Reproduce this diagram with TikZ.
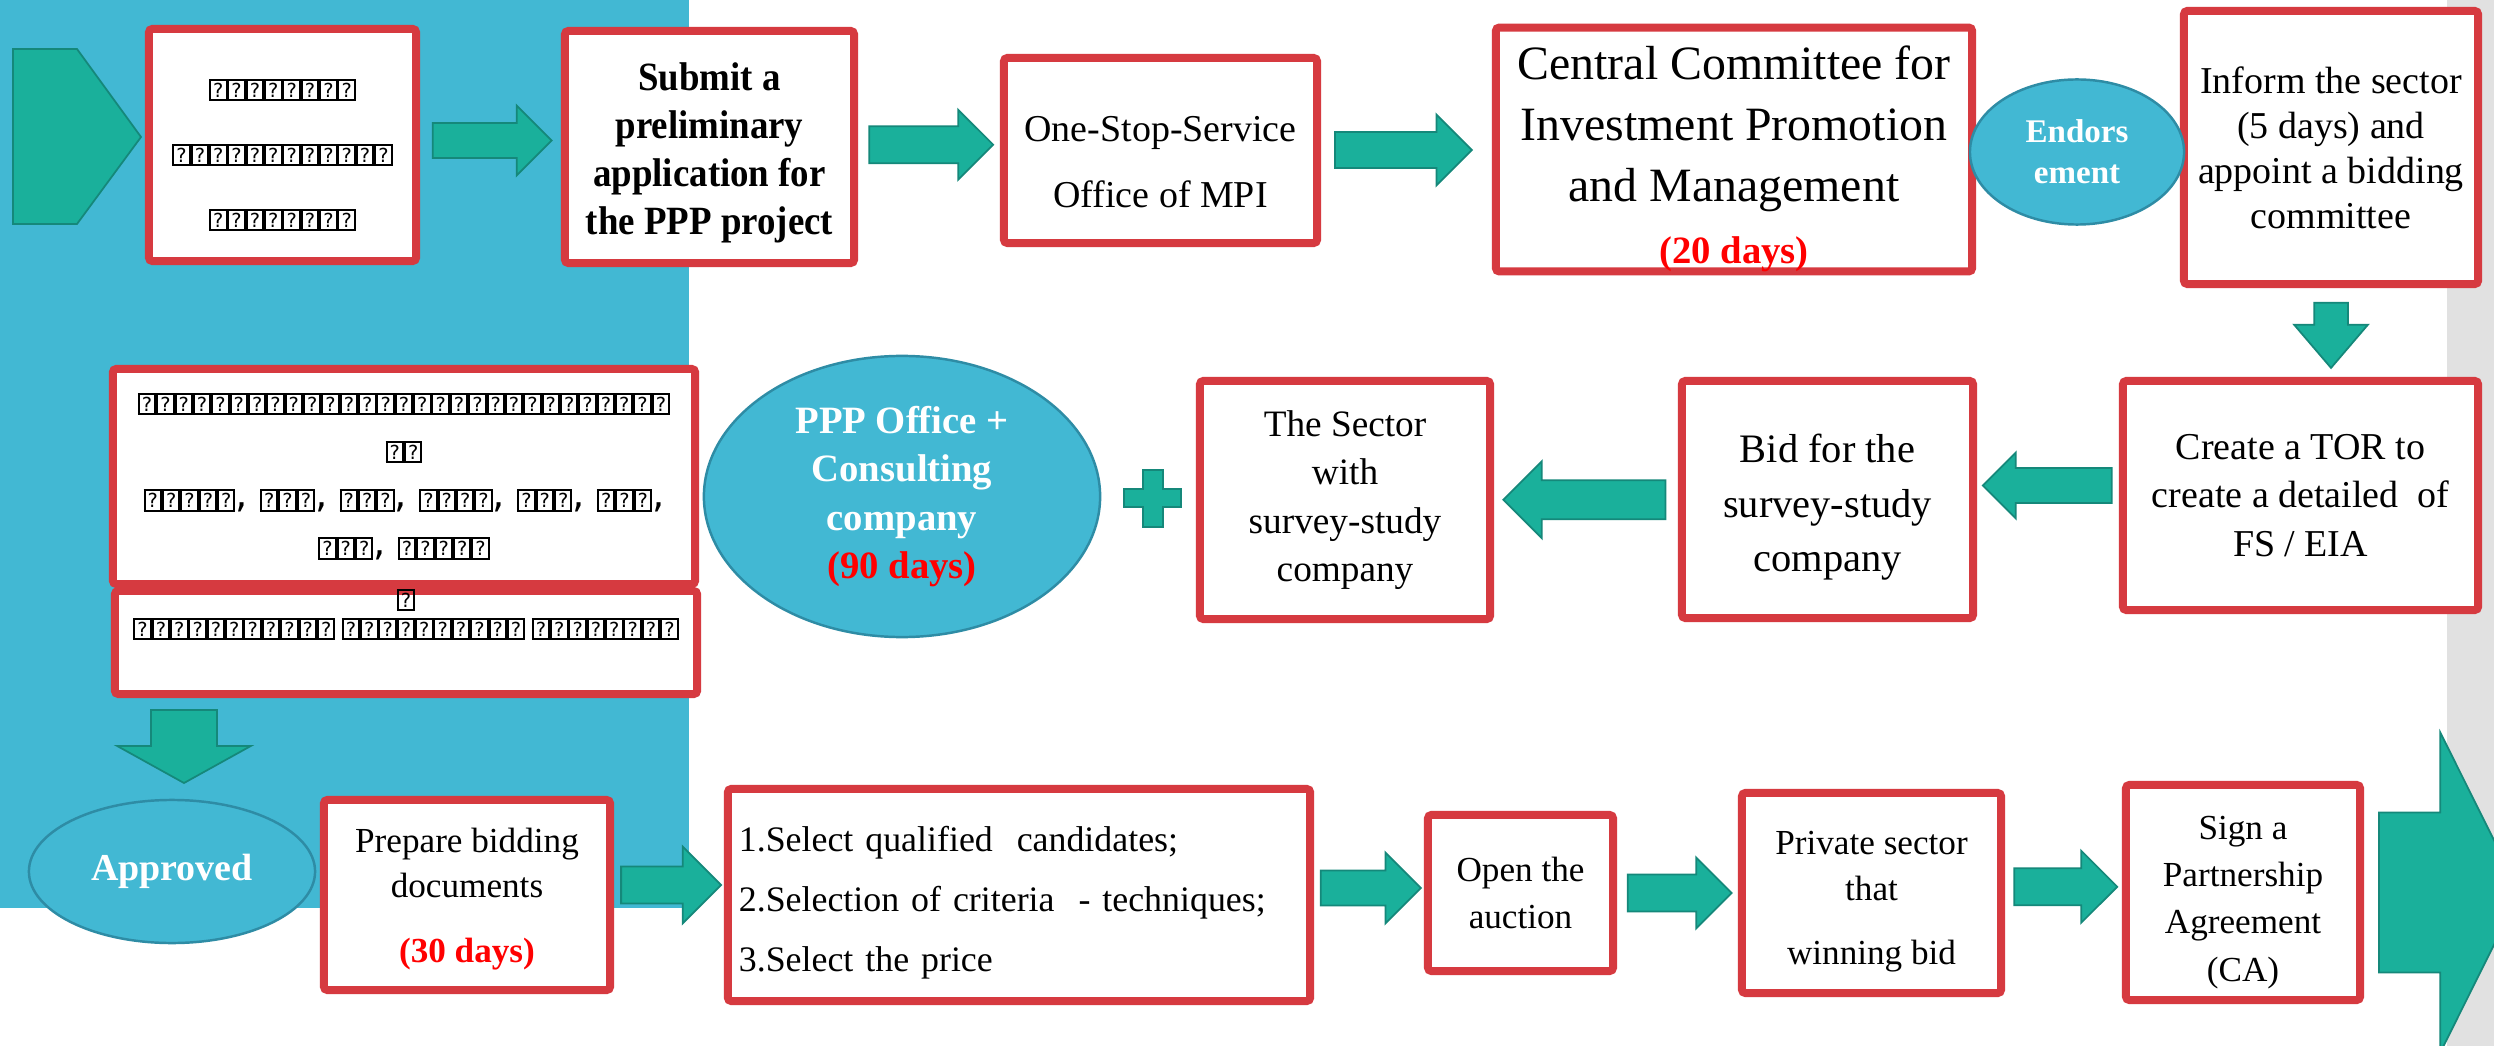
\documentclass[tikz,border=0pt]{standalone}
\usepackage{fontspec}
\setmainfont{Liberation Serif}
\newfontfamily\tofufont{DejaVu Sans}
\usepackage{tikz}
\usetikzlibrary{shapes.geometric, shapes.arrows, positioning, calc}

\definecolor{bgblue}{HTML}{42B8D3}
\definecolor{ovaledge}{HTML}{2E8CA5}
\definecolor{boxred}{HTML}{D63A40}
\definecolor{daysred}{HTML}{FF0000}
\definecolor{flowteal}{HTML}{1AB09B}
\definecolor{flowedge}{HTML}{15887A}
\definecolor{stripgray}{HTML}{E1E1E1}

\newcommand{\tofuglyph}{{\setlength{\fboxsep}{0.6pt}\setlength{\fboxrule}{0.55pt}\fontsize{5.5}{6}\selectfont\fbox{?}}}
\newcommand{\tofu}[1]{\foreach \k in {1,...,#1}{\tofuglyph}}

\tikzset{
  redbox/.style={draw=boxred, line width=0.08cm, fill=white, align=center, inner sep=0pt, rounded corners=1pt},
  oval/.style={ellipse, draw=ovaledge, line width=0.7pt, fill=bgblue, text=white, align=center, inner sep=0pt},
  flow/.style={single arrow, draw=flowedge, fill=flowteal, line width=0.5pt, inner xsep=0pt, inner ysep=#1, single arrow head extend=0.175cm},
  flow/.default=0.17cm,
  laofont/.style={font=\tofufont\fontsize{11}{#1}\selectfont},
}

\begin{document}
\begin{tikzpicture}[x=0.01cm, y=-0.01cm]
\useasboundingbox (0,0) rectangle (2494,1046);
\fill[white] (0,0) rectangle (2494,1046);
\fill[bgblue] (0,0) rectangle (689,908);
\fill[stripgray] (2447,0) rectangle (2494,1046);
\filldraw[fill=flowteal, draw=flowedge, line width=0.5pt] (13,49) -- (77,49) -- (141,137) -- (77,224) -- (13,224) -- cycle;

\node[redbox, laofont=18.5, minimum width=2.67cm, minimum height=2.32cm] (lao1) at (282.5,145) {\rule{0pt}{10.9pt}\tofu{8}\\\tofu{12}\\\tofu{8}};
\node[redbox, font=\bfseries\addfontfeatures{FakeStretch=0.92}\fontsize{11.4}{13.7}\selectfont, minimum width=2.89cm, minimum height=2.32cm] (submit) at (709.5,147) {\rule{0pt}{11.3pt}Submit a\\preliminary\\application for\\the PPP project};
\node[redbox, font=\fontsize{10.8}{18.8}\selectfont, minimum width=3.13cm, minimum height=1.85cm] (oss) at (1160.5,150.5) {\rule{0pt}{13.8pt}One-Stop-Service\\Office of MPI};
\node[redbox, font=\fontsize{13.6}{17.4}\selectfont, minimum width=4.76cm, minimum height=2.37cm] (central) at (1734,149.5) {\rule{0pt}{14.8pt}Central Committee for\\Investment Promotion\\and Management\\{\color{daysred}\bfseries\fontsize{11}{17.4}\selectfont(20 days)}};
\node[redbox, font=\fontsize{10.8}{12.8}\selectfont, minimum width=2.94cm, minimum height=2.73cm] (inform) at (2331,147.5) {Inform the sector\\(5 days) and\\appoint a bidding\\committee};
\node[oval, font=\bfseries\fontsize{9.4}{11.7}\selectfont, minimum width=2.14cm, minimum height=1.45cm] (endorse) at (2077,152) {Endors\\ement};

\node[redbox, font=\fontsize{10.8}{13.7}\selectfont, minimum width=3.55cm, minimum height=2.29cm] (tor) at (2300.5,495.5) {Create a TOR to\\create a detailed\ \ of\\FS / EIA};
\node[redbox, font=\fontsize{11.5}{15.6}\selectfont, minimum width=2.91cm, minimum height=2.37cm] (bid) at (1827.5,499.5) {\rule{0pt}{12.5pt}Bid for the\\survey-study\\company};
\node[redbox, font=\fontsize{10.6}{13.7}\selectfont, minimum width=2.90cm, minimum height=2.38cm] (sector) at (1345,500) {The Sector\\with\\survey-study\\company};
\node[oval, font=\bfseries\fontsize{11}{13.7}\selectfont, minimum width=3.96cm, minimum height=2.81cm] (ppp) at (902,496.5) {PPP Office +\\Consulting\\company\\{\color{daysred}(90 days)}};
\node[redbox, laofont=13.7, minimum width=5.82cm, minimum height=2.15cm] (lao2) at (404,476.5) {\tofu{6}\tofu{9}\tofu{11}\tofu{3}\\\tofu{2}\\\tofu{5}, \tofu{3}, \tofu{3}, \tofu{4}, \tofu{3}, \tofu{3},\\\tofu{3}, \tofu{5}};
\node[redbox, minimum width=5.82cm, minimum height=1.03cm] (lao3) at (406,642.5) {};
\node[laofont=8.3, align=center] (lao3text) at ($(lao3.north)+(0,27.5)$) {\tofu{1}\\\tofu{11}\,\tofu{10}\,\tofu{8}};

\node[oval, font=\bfseries\fontsize{10.8}{13}\selectfont, minimum width=2.86cm, minimum height=1.43cm] (approved) at (172,871.5) {Approved};
\node[redbox, font=\fontsize{10}{12.8}\selectfont, minimum width=2.86cm, minimum height=1.90cm] (prepare) at (467,895) {\rule{0pt}{9pt}Prepare bidding\\documents\\[5.7pt]{\color{daysred}\bfseries(30 days)}};
\node[redbox, font=\fontsize{10.2}{17}\selectfont, align=left, text width=5.6cm, minimum width=5.82cm, minimum height=2.12cm] (select) at (1019,895) {\rule{0pt}{11.6pt}1.Select qualified\ \ candidates;\\2.Selection of criteria\ \ - techniques;\\3.Select the price};
\node[redbox, font=\fontsize{10}{13.4}\selectfont, minimum width=1.85cm, minimum height=1.56cm] (open) at (1520.5,893) {Open the\\auction};
\node[redbox, font=\fontsize{10}{13.1}\selectfont, minimum width=2.59cm, minimum height=2.00cm] (private) at (1871.5,893) {\rule{0pt}{11.5pt}Private sector\\that\\[5.1pt]winning bid};
\node[redbox, font=\fontsize{10}{13.4}\selectfont, minimum width=2.34cm, minimum height=2.15cm] (sign) at (2243,892.5) {\rule{0pt}{12.3pt}Sign a\\Partnership\\Agreement\\(CA)};

\node[flow=0.165cm, minimum height=1.19cm, xshift=-0.07cm, yshift=0.055cm] (a1) at ($(lao1.east)!.5!(submit.west)$) {};
\node[flow=0.175cm, minimum height=1.24cm, single arrow head extend=0.165cm, xshift=-0.07cm, yshift=0.04cm] (a2) at ($(submit.east)!.5!(oss.west)$) {};
\node[flow=0.17cm, minimum height=1.37cm, xshift=-0.12cm] (a3) at ($(oss.east)!.5!(central.west)$) {};
\node[flow=0.16cm, minimum height=0.65cm, single arrow head extend=0.2cm, single arrow tip angle=81, yshift=0.07cm, rotate=-90] (d1) at ($(inform.south)!.5!(inform.south |- tor.north)$) {};
\node[flow=0.165cm, minimum height=1.29cm, single arrow head extend=0.155cm, xshift=0.08cm, yshift=0.12cm, rotate=180] (l1) at ($(tor.west)!.5!(bid.east)$) {};
\node[flow=0.185cm, minimum height=1.62cm, single arrow head extend=0.19cm, xshift=0.08cm, rotate=180] (l2) at ($(bid.west)!.5!(sector.east)$) {};
\coordinate (pc) at ($(ppp.east)!.5!(sector.west)$);
\filldraw[fill=flowteal, draw=flowedge, line width=0.5pt] ([shift={(-6,-28.5)}]pc) -- ++(20,0) -- ++(0,19.5) -- ++(18.5,0) -- ++(0,18) -- ++(-18.5,0) -- ++(0,19.5) -- ++(-20,0) -- ++(0,-19.5) -- ++(-18.5,0) -- ++(0,-18) -- ++(18.5,0) -- cycle;
\node[flow=0.32cm, minimum height=0.73cm, single arrow head extend=0.34cm, single arrow tip angle=122, xshift=0.12cm, yshift=0.11cm, rotate=-90] (d2) at ($(approved.north)!.5!(approved.north |- lao3.south)$) {};
\node[flow=0.175cm, minimum height=1.0cm, single arrow head extend=0.2cm, xshift=-0.07cm, yshift=0.1cm] (b1) at ($(prepare.east)!.5!(select.west)$) {};
\node[flow=0.165cm, minimum height=1.0cm, single arrow head extend=0.18cm, xshift=-0.07cm, yshift=0.06cm] (b2) at ($(select.east)!.5!(open.west)$) {};
\node[flow=0.175cm, minimum height=1.04cm, single arrow head extend=0.17cm, xshift=-0.07cm] (b3) at ($(open.east)!.5!(private.west)$) {};
\node[flow=0.175cm, minimum height=1.03cm, xshift=-0.07cm, yshift=0.06cm] (b4) at ($(private.east)!.5!(sign.west)$) {};
\node[flow=0.79cm, minimum height=1.41cm, single arrow head extend=0.8cm, single arrow tip angle=127, right=0.14cm of sign] (finish) {};
\end{tikzpicture}
\end{document}
